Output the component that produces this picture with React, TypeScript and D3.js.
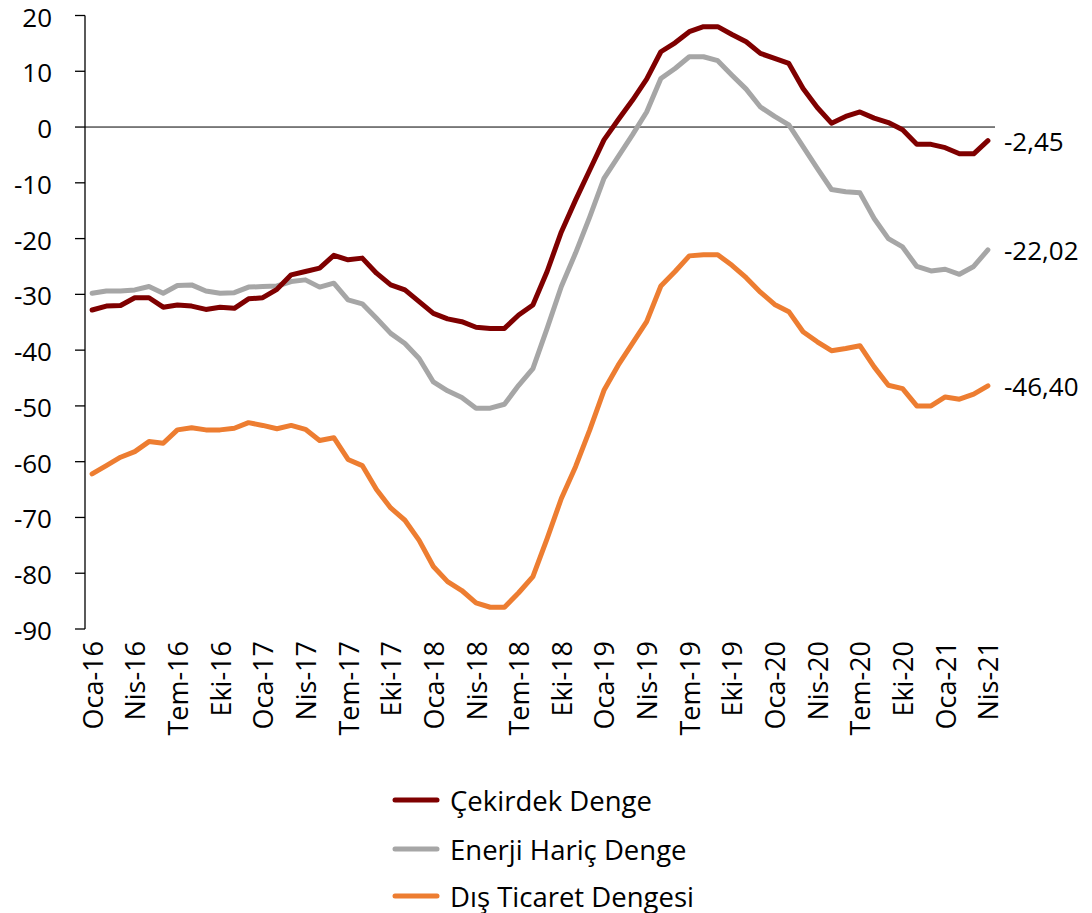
import { useEffect, useRef } from "react";
import * as d3 from "d3";

// aylar: Oca-16 .. Nis-21
const MONTHS_TR = ["Oca", "Şub", "Mar", "Nis", "May", "Haz", "Tem", "Ağu", "Eyl", "Eki", "Kas", "Ara"];
const months: string[] = [];
for (let y = 16; y <= 21; y++) {
  for (let m = 0; m < 12; m++) {
    if (y === 21 && m > 3) break;
    months.push(`${MONTHS_TR[m]}-${y}`);
  }
}

const cekirdek = [
  -32.8, -32.1, -32.0, -30.6, -30.6, -32.3, -31.9, -32.1, -32.7, -32.3, -32.5, -30.8,
  -30.6, -29.1, -26.5, -25.9, -25.3, -23.0, -23.8, -23.5, -26.2, -28.3, -29.2, -31.3,
  -33.4, -34.4, -34.9, -35.9, -36.1, -36.1, -33.7, -31.9, -25.9, -18.8, -13.1, -7.7,
  -2.3, 1.3, 4.8, 8.6, 13.5, 15.1, 17.1, 18.0, 18.0, 16.6, 15.3, 13.2,
  12.3, 11.4, 6.9, 3.5, 0.7, 1.9, 2.7, 1.6, 0.8, -0.5, -3.1, -3.1,
  -3.7, -4.8, -4.8, -2.45,
];

const enerjiHaric = [
  -29.8, -29.4, -29.4, -29.2, -28.6, -29.8, -28.4, -28.3, -29.4, -29.8, -29.7, -28.7,
  -28.6, -28.5, -27.7, -27.4, -28.7, -28.0, -31.0, -31.7, -34.3, -37.0, -38.8, -41.5,
  -45.7, -47.3, -48.5, -50.4, -50.4, -49.7, -46.3, -43.3, -36.1, -28.6, -22.6, -16.1,
  -9.2, -5.3, -1.4, 2.7, 8.7, 10.5, 12.6, 12.6, 11.9, 9.3, 6.8, 3.6,
  1.9, 0.4, -3.5, -7.4, -11.2, -11.6, -11.8, -16.4, -20.0, -21.5, -25.0, -25.8,
  -25.5, -26.4, -25.0, -22.02,
];

const disTicaret = [
  -62.2, -60.7, -59.2, -58.2, -56.4, -56.7, -54.3, -53.9, -54.3, -54.3, -54.0, -53.0,
  -53.5, -54.1, -53.5, -54.2, -56.2, -55.7, -59.6, -60.7, -65.0, -68.3, -70.5, -74.1,
  -78.8, -81.5, -83.1, -85.3, -86.1, -86.1, -83.5, -80.6, -73.8, -66.6, -60.9, -54.3,
  -47.2, -42.7, -38.8, -34.9, -28.5, -25.9, -23.1, -22.9, -22.9, -24.8, -27.0, -29.6,
  -31.8, -33.1, -36.7, -38.5, -40.1, -39.7, -39.2, -43.0, -46.3, -46.9, -50.0, -50.0,
  -48.4, -48.8, -47.9, -46.4,
];

const seriesNames = ["Çekirdek Denge", "Enerji Hariç Denge", "Dış Ticaret Dengesi"];
const seriesColors = ["#7f0000", "#a6a6a6", "#ed7d31"];
const endLabels = ["-2,45", "-22,02", "-46,40"];
const yTicks = [20, 10, 0, -10, -20, -30, -40, -50, -60, -70, -80, -90];

const FONT = "'Open Sans', sans-serif";

export default function App() {
  const ref = useRef<SVGSVGElement | null>(null);

  useEffect(() => {
    const svg = d3.select(ref.current);
    svg.selectAll("*").remove();

    const x = d3.scaleBand<string>().domain(months).range([85, 995]).padding(0);
    const y = d3.scaleLinear().domain([-90, 20]).range([629, 15.5]);
    const cx = (i: number) => (x(months[i]) as number) + x.bandwidth() / 2;

    // y axis
    svg
      .append("line")
      .attr("x1", 85)
      .attr("x2", 85)
      .attr("y1", y(20))
      .attr("y2", y(-90))
      .attr("stroke", "#000")
      .attr("stroke-width", 1.3);

    const yg = svg.append("g");
    yg.selectAll("line")
      .data(yTicks)
      .join("line")
      .attr("x1", 75)
      .attr("x2", 85)
      .attr("y1", (d) => y(d))
      .attr("y2", (d) => y(d))
      .attr("stroke", "#000")
      .attr("stroke-width", 1.3);
    yg.selectAll("text")
      .data(yTicks)
      .join("text")
      .attr("x", 52)
      .attr("y", (d) => y(d) + 1)
      .attr("text-anchor", "end")
      .attr("dominant-baseline", "central")
      .attr("font-family", FONT)
      .attr("font-size", 26)
      .attr("fill", "#000")
      .text((d) => String(d));

    // zero line
    svg
      .append("line")
      .attr("x1", 85)
      .attr("x2", 995)
      .attr("y1", y(0))
      .attr("y2", y(0))
      .attr("stroke", "#000")
      .attr("stroke-width", 1);

    // x labels, every 3 months
    const xLabels = months.filter((_, i) => i % 3 === 0);
    svg
      .append("g")
      .selectAll("text")
      .data(xLabels)
      .join("text")
      .attr("transform", (d) => `translate(${(x(d) as number) + x.bandwidth() / 2},641) rotate(-90)`)
      .attr("text-anchor", "end")
      .attr("dominant-baseline", "central")
      .attr("font-family", FONT)
      .attr("font-size", 27)
      .attr("fill", "#000")
      .text((d) => d);

    // lines
    const line = d3
      .line<number>()
      .x((_, i) => cx(i))
      .y((d) => y(d));

    const allSeries = [cekirdek, enerjiHaric, disTicaret];
    // turuncu, gri, kırmızı sırası: kırmızı en üstte
    [2, 1, 0].forEach((k) => {
      svg
        .append("path")
        .attr("d", line(allSeries[k]) as string)
        .attr("fill", "none")
        .attr("stroke", seriesColors[k])
        .attr("stroke-width", 5)
        .attr("stroke-linejoin", "round")
        .attr("stroke-linecap", "round");
    });

    // end labels
    allSeries.forEach((s, k) => {
      svg
        .append("text")
        .attr("x", 1004)
        .attr("y", y(s[s.length - 1]))
        .attr("dominant-baseline", "central")
        .attr("font-family", FONT)
        .attr("font-size", 26)
        .attr("fill", "#000")
        .text(endLabels[k]);
    });

    // legend
    const legendY = [800, 849, 896];
    seriesNames.forEach((name, k) => {
      svg
        .append("line")
        .attr("x1", 395)
        .attr("x2", 437)
        .attr("y1", legendY[k])
        .attr("y2", legendY[k])
        .attr("stroke", seriesColors[k])
        .attr("stroke-width", 5)
        .attr("stroke-linecap", "round");
      svg
        .append("text")
        .attr("x", 450)
        .attr("y", legendY[k])
        .attr("dominant-baseline", "central")
        .attr("font-family", FONT)
        .attr("font-size", 27.5)
        .attr("fill", "#000")
        .text(name);
    });
  }, []);

  return (
    <div style={{ position: "absolute", left: 0, top: 0 }}>
      <svg ref={ref} width={1092} height={913} style={{ display: "block", background: "#fff" }} />
    </div>
  );
}
